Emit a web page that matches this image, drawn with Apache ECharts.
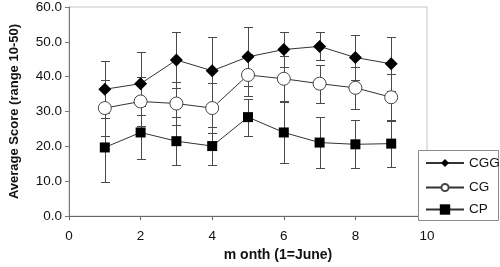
<!DOCTYPE html>
<html>
<head>
<meta charset="utf-8">
<script src="https://cdn.jsdelivr.net/npm/echarts@6/dist/echarts.min.js"></script>
<style>
html, body { margin: 0; padding: 0; background: #fff; }
#main { width: 500px; height: 267px; }
</style>
</head>
<body>
<div id="main"></div>
<script>
// month (1=June)
var months = [1, 2, 3, 4, 5, 6, 7, 8, 9];
// mean scores and error bar half-lengths
var cggMean = [36.4, 38.0, 44.8, 41.7, 45.7, 47.8, 48.7, 45.5, 43.7];
var cggErr = [8.2, 9.1, 8.1, 9.8, 8.5, 4.9, 4.0, 6.4, 7.8];
var cgMean = [31.0, 32.9, 32.3, 31.0, 40.5, 39.4, 38.0, 36.8, 34.1];
var cgErr = [8.0, 7.1, 6.1, 7.2, 6.0, 6.5, 5.5, 6.0, 6.7];
var cpMean = [19.7, 24.0, 21.5, 20.1, 28.4, 24.0, 21.1, 20.6, 20.8];
var cpErr = [9.9, 7.6, 6.9, 5.5, 5.3, 8.7, 7.4, 6.9, 6.7];

var font = "'Liberation Sans', Arial, sans-serif";

function pairs(vals) {
  return months.map(function (m, i) { return [m, vals[i]]; });
}

// vertical error bars with caps
function errorBars(mean, err) {
  var data = months.map(function (m, i) {
    return [m, mean[i] - err[i], mean[i] + err[i]];
  });
  return {
    type: 'custom',
    silent: true,
    z: 1,
    encode: { x: 0, y: [1, 2] },
    data: data,
    renderItem: function (params, api) {
      var lo = api.coord([api.value(0), api.value(1)]);
      var hi = api.coord([api.value(0), api.value(2)]);
      var x = Math.round(lo[0]) + 0.5;
      var y1 = Math.round(lo[1]) + 0.5;
      var y2 = Math.round(hi[1]) + 0.5;
      var w = 4.5;
      var st = { stroke: '#4a4a4a', lineWidth: 1 };
      return {
        type: 'group',
        children: [
          { type: 'line', shape: { x1: x, y1: y1, x2: x, y2: y2 }, style: st },
          { type: 'line', shape: { x1: x - w, y1: y1, x2: x + w, y2: y1 }, style: st },
          { type: 'line', shape: { x1: x - w, y1: y2, x2: x + w, y2: y2 }, style: st }
        ]
      };
    }
  };
}

var myChart = echarts.init(document.getElementById('main'));
myChart.setOption({
  animation: false,
  textStyle: { fontFamily: font },
  grid: {
    left: 62, right: 73, top: 7, bottom: 41,
    show: true, borderColor: '#c4c4c4', borderWidth: 1
  },
  graphic: [{
    type: 'rect', z: 10,
    shape: { x: 418.5, y: 150.5, width: 80, height: 70 },
    style: { fill: '#fff', stroke: '#8a8a8a', lineWidth: 1 }
  }],
  legend: [
    { data: ['CGG'], left: 425, top: 156, itemWidth: 38, itemHeight: 10, padding: 0, z: 20,
      textStyle: { color: '#111', fontSize: 13.5, fontFamily: font } },
    { data: ['CG'], left: 425, top: 180.5, itemWidth: 38, itemHeight: 9, padding: 0, z: 20,
      textStyle: { color: '#111', fontSize: 13.5, fontFamily: font } },
    { data: ['CP'], left: 425, top: 202.5, itemWidth: 38, itemHeight: 13, padding: 0, z: 20,
      textStyle: { color: '#111', fontSize: 13.5, fontFamily: font } }
  ],
  xAxis: {
    type: 'value', min: 0, max: 10, interval: 2,
    name: 'm onth (1=June)', nameLocation: 'middle', nameGap: 28,
    nameTextStyle: { fontWeight: 'bold', fontSize: 14, color: '#111', fontFamily: font, padding: [0, 0, 0, 60] },
    axisLine: { lineStyle: { color: '#666' } },
    axisTick: { length: 4, lineStyle: { color: '#666' } },
    axisLabel: { margin: 13, fontSize: 13.5, color: '#111', fontFamily: font },
    splitLine: { show: false }
  },
  yAxis: {
    type: 'value', min: 0, max: 60, interval: 10,
    name: 'Average Score (range 10-50)', nameLocation: 'middle', nameGap: 48,
    nameTextStyle: { fontWeight: 'bold', fontSize: 13, color: '#111', fontFamily: font },
    axisLine: { show: true, lineStyle: { color: '#777' } },
    axisTick: { show: true, length: 4, lineStyle: { color: '#777' } },
    axisLabel: { margin: 7, fontSize: 13.5, color: '#111', fontFamily: font,
      formatter: function (v) { return v.toFixed(1); } },
    splitLine: { show: false }
  },
  series: [
    errorBars(cggMean, cggErr),
    errorBars(cgMean, cgErr),
    errorBars(cpMean, cpErr),
    {
      name: 'CGG', type: 'line', z: 3, data: pairs(cggMean),
      symbol: 'diamond', symbolSize: 13,
      lineStyle: { color: '#333', width: 1 },
      itemStyle: { color: '#000', borderColor: '#000', borderWidth: 0 }
    },
    {
      name: 'CG', type: 'line', z: 3, data: pairs(cgMean),
      symbol: 'circle', symbolSize: 13,
      lineStyle: { color: '#333', width: 1 },
      itemStyle: { color: '#fff', borderColor: '#444', borderWidth: 1 }
    },
    {
      name: 'CP', type: 'line', z: 3, data: pairs(cpMean),
      symbol: 'rect', symbolSize: 10,
      lineStyle: { color: '#333', width: 1 },
      itemStyle: { color: '#000', borderColor: '#000', borderWidth: 0 }
    }
  ]
});
</script>
</body>
</html>
